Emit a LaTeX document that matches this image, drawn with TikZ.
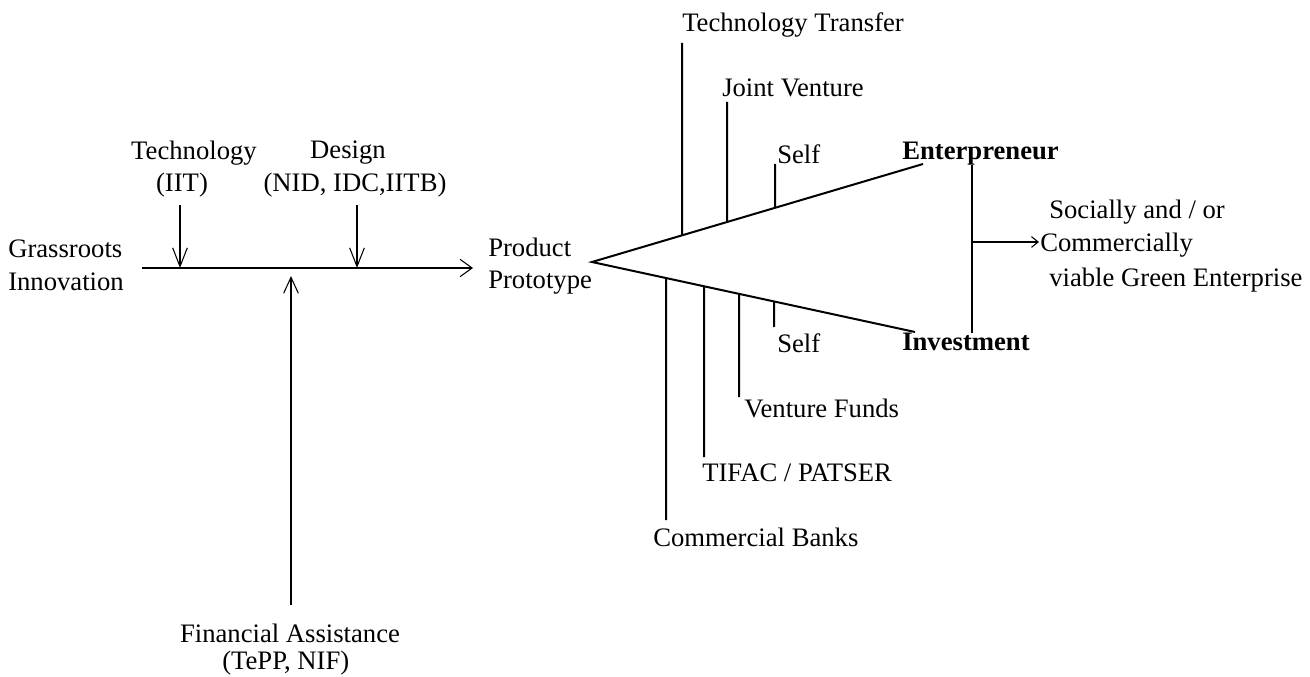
\documentclass[tikz,border=0pt]{standalone}
\usepackage{fontspec}
\setmainfont{Liberation Serif}
\usetikzlibrary{arrows.meta,calc}
\begin{document}
\begin{tikzpicture}[x=0.75pt,y=-0.75pt,
  txt/.style={font=\fontsize{20}{24.5}\selectfont, inner sep=0pt, align=left},
  ln/.style={line width=1.5pt},
  mainarr/.style={ln,-{Straight Barb[length=9pt,width=13pt,line width=0.8pt]}},
  downarr/.style={ln,-{Straight Barb[length=14pt,width=11pt,line width=0.8pt]}},
  uparr/.style={ln,-{Straight Barb[length=12pt,width=11pt,line width=0.8pt]}},
  smallarr/.style={ln,-{Straight Barb[length=5pt,width=8pt,line width=0.8pt]}}]
\useasboundingbox (0,0) rectangle (1310,677);

% left part texts
\node[txt,anchor=west] (grass) at (8,265) {Grassroots\\Innovation};
\node[txt] (tech1) at (194,153) {Technology};
\node[txt] (tech2) at (182,185) {(IIT)};
\node[txt] (des1) at (348,153) {Design};
\node[txt] (des2) at (355,185) {(NID, IDC,IITB)};
\node[txt] (fin1) at (290,633) {Financial Assistance};
\node[txt,anchor=west] (fin2) at (222,663) {(TePP, NIF)};
\node[txt,anchor=west] (prod) at (488,266) {Product\\Prototype};

% left connectors
\coordinate (mstart) at (142,268);
\coordinate (mend) at (473,268);
\coordinate (tdown) at (180,268);
\coordinate (ttop) at (180,205);
\coordinate (ddown) at (357,268);
\coordinate (dtop) at (357,205);
\coordinate (fbot) at (291,605);
\coordinate (ftip) at (291,276);
\draw[mainarr] (mstart) -- (mend);
\draw[downarr] (ttop) -- (tdown);
\draw[downarr] (dtop) -- (ddown);
\draw[uparr] (fbot) -- (ftip);

% triangle
\coordinate (apex) at (592,262);
\coordinate (uend) at (923,164);
\coordinate (lend) at (915,332);
\draw[ln] (uend) -- (apex) -- (lend);

% right texts
\node[txt,anchor=west] (tt) at (682,25) {Technology Transfer};
\node[txt,anchor=west] (jv) at (722,88) {Joint Venture};
\node[txt,anchor=west] (self1) at (777,154) {Self};
\node[txt,anchor=west,font=\fontsize{20}{24.5}\selectfont\bfseries] (ent) at (902,154) {Enterpreneur};
\node[txt,anchor=west] (self2) at (777,343) {Self};
\node[txt,anchor=west,font=\fontsize{20}{24.5}\selectfont\bfseries] (inv) at (902,342) {Investment};
\node[txt,anchor=west] (vf) at (744,408) {Venture Funds};
\node[txt,anchor=west] (tif) at (702,473) {TIFAC / PATSER};
\node[txt,anchor=west] (cb) at (653,537) {Commercial Banks};
\node[txt,anchor=west] (soc1) at (1049,212) {Socially and / or};
\node[txt,anchor=west] (soc2) at (1040,245) {Commercially};
\node[txt,anchor=west] (soc3) at (1049,280) {viable Green Enterprise};

% upper verticals (end on the upper edge)
\coordinate (tttop) at (682,43);
\coordinate (jvtop) at (727,102);
\coordinate (s1top) at (775,164);
\coordinate (ttbot) at ($(apex)!{(682-592)/(923-592)}!(uend)$);
\coordinate (jvbot) at ($(apex)!{(727-592)/(923-592)}!(uend)$);
\coordinate (s1bot) at ($(apex)!{(775-592)/(923-592)}!(uend)$);
\draw[ln] (tttop) -- (ttbot);
\draw[ln] (jvtop) -- (jvbot);
\draw[ln] (s1top) -- (s1bot);

% lower verticals (start on the lower edge)
\coordinate (cbtop) at ($(apex)!{(666-592)/(915-592)}!(lend)$);
\coordinate (tftop) at ($(apex)!{(704-592)/(915-592)}!(lend)$);
\coordinate (vftop) at ($(apex)!{(739-592)/(915-592)}!(lend)$);
\coordinate (s2top) at ($(apex)!{(774-592)/(915-592)}!(lend)$);
\coordinate (cbbot) at (666,520);
\coordinate (tfbot) at (704,457);
\coordinate (vfbot) at (739,397);
\coordinate (s2bot) at (774,327);
\draw[ln] (cbtop) -- (cbbot);
\draw[ln] (tftop) -- (tfbot);
\draw[ln] (vftop) -- (vfbot);
\draw[ln] (s2top) -- (s2bot);

% right bracket and output arrow
\coordinate (btop) at (972,165);
\coordinate (bbot) at (972,333);
\coordinate (bmid) at (972,242);
\coordinate (oend) at (1039,242);
\draw[ln] (btop) -- (bbot);
\draw[smallarr] (bmid) -- (oend);
\end{tikzpicture}
\end{document}
